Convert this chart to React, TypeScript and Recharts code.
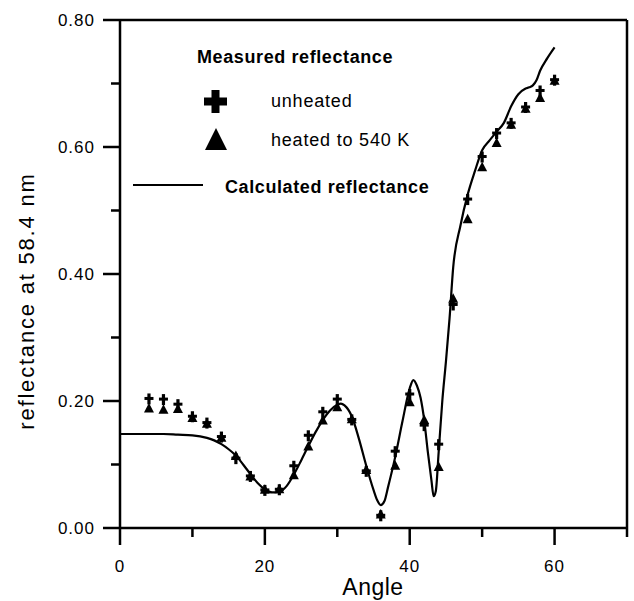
import React from 'react';
import { ComposedChart, Line, Scatter, XAxis, YAxis } from 'recharts';

// measured points (angle in degrees)
const measuredAngles = [4, 6, 8, 10, 12, 14, 16, 18, 20, 22, 24, 26, 28, 30, 32, 34, 36, 38, 40, 42, 44, 46, 48, 50, 52, 54, 56, 58, 60];
const unheated = [0.204, 0.203, 0.195, 0.176, 0.166, 0.144, 0.11, 0.082, 0.06, 0.061, 0.098, 0.146, 0.183, 0.203, 0.171, 0.09, 0.02, 0.121, 0.211, 0.162, 0.132, 0.352, 0.518, 0.585, 0.622, 0.638, 0.663, 0.689, 0.706];
const heated = [0.189, 0.187, 0.188, 0.174, 0.165, 0.143, 0.114, 0.082, 0.061, 0.062, 0.084, 0.129, 0.17, 0.191, 0.172, 0.092, 0.022, 0.099, 0.199, 0.171, 0.097, 0.362, 0.487, 0.569, 0.607, 0.636, 0.661, 0.678, 0.705];

// calculated curve
const calcAngles = [0, 2, 4, 6, 8, 10, 12, 13, 14, 15, 16, 17, 18, 19, 20, 21, 22, 23, 24, 25, 26, 27, 28, 29, 30, 30.5, 31, 32, 33, 34, 35, 35.5, 36, 36.5, 37, 38, 39, 40, 40.5, 41, 41.5, 42, 42.5, 43, 43.3, 43.6, 44, 44.5, 45, 45.5, 46, 47, 48, 49, 50, 51, 52, 53, 54, 55, 56, 56.5, 57, 57.5, 58, 59, 60];
const calcReflectance = [0.148, 0.148, 0.148, 0.148, 0.147, 0.146, 0.142, 0.138, 0.132, 0.124, 0.114, 0.1, 0.085, 0.071, 0.061, 0.056, 0.057, 0.066, 0.084, 0.106, 0.129, 0.151, 0.17, 0.185, 0.194, 0.196, 0.193, 0.176, 0.14, 0.098, 0.06, 0.044, 0.036, 0.042, 0.064, 0.112, 0.168, 0.22, 0.233, 0.224, 0.205, 0.17, 0.12, 0.075, 0.05, 0.058, 0.12, 0.2, 0.262, 0.33, 0.41, 0.476, 0.525, 0.562, 0.595, 0.61, 0.624, 0.638, 0.664, 0.683, 0.692, 0.694, 0.697, 0.705, 0.72, 0.74, 0.757];

const xTicks = [0, 10, 20, 30, 40, 50, 60, 70];
const yTicks = [0, 0.1, 0.2, 0.3, 0.4, 0.5, 0.6, 0.7, 0.8];

const font = '"Liberation Sans", Arial, sans-serif';

const unheatedPts = measuredAngles.map((a, i) => ({ x: a, y: unheated[i] }));
const heatedPts = measuredAngles.map((a, i) => ({ x: a, y: heated[i] }));
const calcPts = calcAngles.map((a, i) => ({ x: a, y: calcReflectance[i] }));

const isMajorY = (v: number) => Math.round(v * 10) % 2 === 0;

const BottomTick = (props: any) => {
  const { x, y, payload } = props;
  const major = payload.value % 20 === 0;
  return (
    <g>
      <line x1={x} x2={x} y1={y} y2={y + (major ? 17 : 9)} stroke="#000" strokeWidth={2.5} />
      {major && (
        <text x={x} y={y + 44} textAnchor="middle" fontFamily={font} fontSize={17} letterSpacing={1} fill="#000">
          {payload.value}
        </text>
      )}
    </g>
  );
};

const TopTick = (props: any) => {
  const { x, y, payload } = props;
  const major = payload.value % 20 === 0;
  return <line x1={x} x2={x} y1={y} y2={y - (major ? 10 : 6)} stroke="#000" strokeWidth={2.5} />;
};

const LeftTick = (props: any) => {
  const { x, y, payload } = props;
  const major = isMajorY(payload.value);
  return (
    <g>
      <line x1={x - (major ? 17 : 9)} x2={x} y1={y} y2={y} stroke="#000" strokeWidth={2.5} />
      {major && (
        <text x={x - 25} y={y} dy="0.36em" textAnchor="end" fontFamily={font} fontSize={17} letterSpacing={1} fill="#000">
          {payload.value.toFixed(2)}
        </text>
      )}
    </g>
  );
};

const RightTick = (props: any) => {
  const { x, y } = props;
  return <line x1={x} x2={x + 7} y1={y} y2={y} stroke="#000" strokeWidth={2.5} />;
};

const CrossMark = (props: any) => {
  const { cx, cy } = props;
  if (cx == null || cy == null) return null;
  return (
    <g fill="#000">
      <rect x={cx - 1.6} y={cy - 5} width={3.2} height={11} />
      <rect x={cx - 4.5} y={cy - 1.5} width={9} height={3} />
    </g>
  );
};

const TriangleMark = (props: any) => {
  const { cx, cy } = props;
  if (cx == null || cy == null) return null;
  return <path d={`M${cx - 5},${cy + 4.5} L${cx + 5},${cy + 4.5} L${cx},${cy - 5} Z`} fill="#000" />;
};

export default function App() {
  const axisLine = { stroke: '#000', strokeWidth: 2.5 };
  return (
    <div style={{ position: 'absolute', left: 0, top: 0, width: 634, height: 601, background: '#fff' }}>
      <ComposedChart width={634} height={601} margin={{ top: 0, right: 0, bottom: 0, left: 0 }}>
        <XAxis
          dataKey="x"
          type="number"
          domain={[0, 70]}
          ticks={xTicks}
          interval={0}
          height={73}
          axisLine={axisLine}
          tickLine={false}
          tickSize={0}
          tickMargin={0}
          tick={BottomTick}
        />
        <XAxis
          xAxisId="top"
          orientation="top"
          dataKey="x"
          type="number"
          domain={[0, 70]}
          ticks={xTicks}
          interval={0}
          height={20}
          axisLine={axisLine}
          tickLine={false}
          tickSize={0}
          tickMargin={0}
          tick={TopTick}
        />
        <YAxis
          type="number"
          domain={[0, 0.8]}
          ticks={yTicks}
          interval={0}
          width={120}
          axisLine={axisLine}
          tickLine={false}
          tickSize={0}
          tickMargin={0}
          tick={LeftTick}
        />
        <YAxis
          yAxisId="right"
          orientation="right"
          type="number"
          domain={[0, 0.8]}
          ticks={yTicks}
          interval={0}
          width={7}
          axisLine={axisLine}
          tickLine={false}
          tickSize={0}
          tickMargin={0}
          tick={RightTick}
        />
        <Line
          data={calcPts}
          dataKey="y"
          type="monotone"
          stroke="#000"
          strokeWidth={2.2}
          dot={false}
          activeDot={false}
          isAnimationActive={false}
        />
        <Scatter data={heatedPts} dataKey="y" shape={TriangleMark} isAnimationActive={false} />
        <Scatter data={unheatedPts} dataKey="y" shape={CrossMark} isAnimationActive={false} />
      </ComposedChart>
      <svg width={634} height={601} style={{ position: 'absolute', left: 0, top: 0, pointerEvents: 'none' }}>
        <text x={197} y={63} fontFamily={font} fontSize={18} fontWeight="bold" letterSpacing={0.6}>
          Measured reflectance
        </text>
        <rect x={211.5} y={90} width={8} height={23} fill="#000" />
        <rect x={204} y={97.5} width={23} height={8} fill="#000" />
        <text x={271} y={107} fontFamily={font} fontSize={18} letterSpacing={0.8}>
          unheated
        </text>
        <path d="M205,150 L227,150 L216,128 Z" fill="#000" />
        <text x={271} y={146} fontFamily={font} fontSize={18} letterSpacing={0.8}>
          heated to 540 K
        </text>
        <line x1={133} x2={203} y1={185} y2={185} stroke="#000" strokeWidth={2.2} />
        <text x={225} y={193} fontFamily={font} fontSize={18} fontWeight="bold" letterSpacing={0.6}>
          Calculated reflectance
        </text>
        <text x={373} y={595} textAnchor="middle" fontFamily={font} fontSize={23} letterSpacing={0.5}>
          Angle
        </text>
        <text
          transform="translate(34,301) rotate(-90)"
          textAnchor="middle"
          fontFamily={font}
          fontSize={22}
          letterSpacing={1.8}
        >
          reflectance at 58.4 nm
        </text>
      </svg>
    </div>
  );
}
